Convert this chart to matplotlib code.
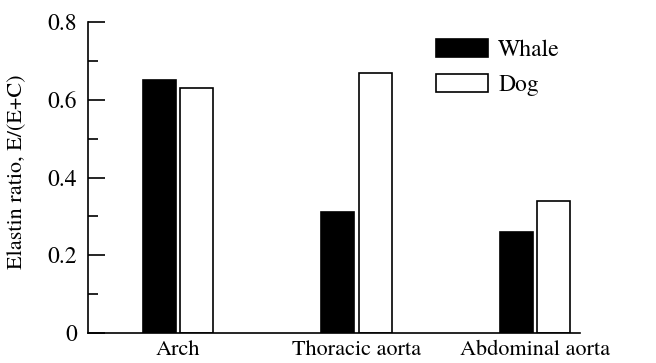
import matplotlib
matplotlib.use("Agg")
import matplotlib.pyplot as plt
import numpy as np
from matplotlib.ticker import MultipleLocator

categories = ["Arch", "Thoracic aorta", "Abdominal aorta"]
whale = [0.65, 0.31, 0.26]
dog = [0.63, 0.67, 0.34]
series_names = ["Whale", "Dog"]

FAM = ['TeX Gyre Termes', 'FreeSerif', 'DejaVu Serif']
plt.rcParams['font.family'] = FAM

fig = plt.figure(figsize=(6.56, 3.63), dpi=100)
W, H = 656, 363
left, right, top, bottom = 88, 580, 22, 333
ax = fig.add_axes([left / W, 1 - bottom / H, (right - left) / W, (bottom - top) / H])

x = np.arange(len(categories))
bw = 0.185
off = 0.104
ax.bar(x - off, whale, bw, color='black', edgecolor='black', linewidth=1.2, label=series_names[0])
ax.bar(x + off, dog, bw, color='white', edgecolor='black', linewidth=1.2, label=series_names[1])

ax.set_xlim(-0.504, 2.252)
ax.set_ylim(0, 0.8)
ax.spines['top'].set_visible(False)
ax.spines['right'].set_visible(False)
for s in ['left', 'bottom']:
    ax.spines[s].set_linewidth(1.2)

ax.yaxis.set_major_locator(MultipleLocator(0.2))
ax.yaxis.set_minor_locator(MultipleLocator(0.1))
ax.set_yticks([0, 0.2, 0.4, 0.6, 0.8])
ax.set_yticklabels(["0", "0.2", "0.4", "0.6", "0.8"])
ax.tick_params(axis='y', which='major', direction='in', length=12, width=1.2, labelsize=17, pad=8)
ax.tick_params(axis='y', which='minor', direction='in', length=7, width=1.2)
ax.set_xticks(x)
ax.set_xticklabels(categories)
ax.tick_params(axis='x', which='both', length=0, labelsize=16, pad=5)
ax.set_ylabel("Elastin ratio, E/(E+C)", fontsize=16)
ax.yaxis.set_label_coords(-0.123, 0.52)

leg = ax.legend(loc='upper left', bbox_to_anchor=((429 - left) / (right - left) - 0.02, 1.0),
                frameon=False, prop={'family': FAM, 'size': 17}, handlelength=2.2, handleheight=0.8,
                handletextpad=0.45, labelspacing=0.55, borderaxespad=0.3)

fig.savefig("out.png", dpi=100)
